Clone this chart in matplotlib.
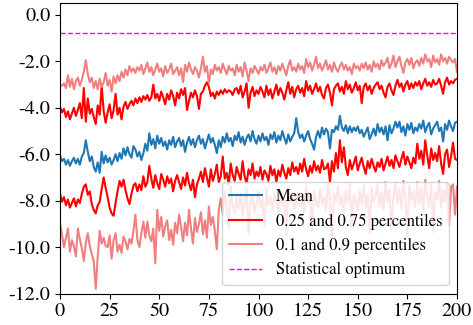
import numpy as np
import matplotlib
matplotlib.use("Agg")
import matplotlib.pyplot as plt
from matplotlib.ticker import FormatStrFormatter

plt.rcParams['font.family'] = ['STIXGeneral', 'DejaVu Serif']

iterations = np.arange(0, 201)

mean = [
    -6.05, -6.30, -6.20, -6.45, -6.25, -6.50, -6.30, -6.15, -6.40, -6.20,
    -6.45, -6.10, -5.95, -5.40, -5.90, -6.30, -6.10, -6.55, -6.75, -6.35,
    -6.80, -5.90, -6.40, -6.05, -6.35, -6.15, -6.45, -6.25, -6.00, -6.30,
    -5.95, -6.20, -5.75, -6.05, -5.70, -6.00, -6.15, -5.65, -5.80, -6.10,
    -5.90, -6.25, -5.95, -5.55, -5.85, -5.10, -5.60, -5.35, -5.75, -5.20,
    -5.55, -5.30, -5.65, -5.45, -5.80, -5.40, -5.60, -5.25, -5.70, -5.45,
    -5.30, -5.65, -5.40, -5.90, -5.50, -5.25, -5.60, -5.35, -5.70, -5.40,
    -5.20, -5.55, -5.35, -5.75, -5.45, -5.15, -5.50, -5.30, -5.60, -5.95,
    -5.40, -5.70, -5.25, -5.50, -5.10, -5.45, -5.30, -5.65, -5.20, -5.40,
    -5.05, -5.50, -5.25, -5.60, -5.30, -5.15, -5.45, -5.00, -5.35, -5.55,
    -5.20, -5.45, -5.10, -5.40, -5.25, -5.60, -5.15, -5.35, -5.05, -5.50,
    -5.20, -5.40, -5.00, -5.30, -5.55, -5.15, -5.45, -5.25, -5.10, -4.45,
    -5.05, -5.30, -5.15, -5.45, -5.20, -5.00, -5.35, -5.55, -5.80, -5.25,
    -5.00, -5.30, -4.85, -5.15, -4.90, -5.05, -5.75, -4.95, -5.05, -4.80,
    -4.95, -4.35, -4.85, -5.00, -4.75, -5.10, -4.80, -5.05, -4.85, -5.00,
    -4.80, -5.10, -4.95, -5.25, -5.05, -4.85, -5.35, -5.15, -4.90, -5.20,
    -4.70, -5.05, -4.85, -5.15, -4.80, -5.40, -4.75, -5.10, -4.90, -4.60,
    -4.85, -4.60, -5.05, -4.80, -5.20, -4.70, -4.95, -4.65, -5.10, -4.85,
    -5.00, -4.70, -4.90, -4.55, -5.05, -4.80, -4.65, -5.15, -4.90, -4.75,
    -4.60, -5.00, -4.85, -5.45, -4.70, -4.95, -4.55, -4.80, -5.00, -4.65,
    -4.60,
]

p75 = [
    -3.95, -4.20, -4.05, -4.40, -4.15, -4.50, -4.25, -4.00, -4.35, -4.10,
    -3.80, -4.45, -3.15, -4.60, -3.60, -4.25, -4.05, -4.40, -4.70, -3.90,
    -4.30, -3.05, -4.15, -4.65, -4.20, -3.85, -4.45, -4.10, -3.40, -4.30,
    -4.00, -4.50, -3.95, -3.75, -4.05, -3.85, -3.70, -3.90, -3.60, -3.80,
    -3.55, -3.75, -3.50, -3.65, -3.45, -3.70, -3.55, -3.00, -3.60, -3.40,
    -3.70, -3.30, -3.55, -3.85, -3.40, -3.65, -3.25, -3.50, -3.90, -3.35,
    -3.60, -3.20, -3.45, -3.15, -4.10, -3.70, -3.35, -3.55, -3.25, -3.50,
    -4.05, -3.40, -3.30, -3.05, -2.90, -3.10, -3.50, -3.35, -3.60, -3.30,
    -3.45, -3.25, -3.40, -3.20, -3.35, -3.25, -3.30, -3.45, -3.20, -3.15,
    -3.40, -3.05, -3.55, -3.30, -2.95, -4.00, -3.35, -3.10, -3.50, -3.25,
    -3.40, -3.10, -3.30, -3.55, -3.05, -3.45, -3.20, -3.60, -3.30, -3.00,
    -3.45, -3.15, -3.35, -3.65, -3.25, -2.90, -3.40, -3.10, -3.55, -3.20,
    -3.05, -3.35, -3.15, -3.50, -2.85, -3.25, -3.05, -3.40, -3.20, -2.95,
    -3.30, -3.10, -3.45, -3.60, -3.15, -3.00, -3.35, -3.90, -3.20, -3.05,
    -2.95, -3.30, -3.10, -3.40, -2.85, -3.20, -3.00, -3.35, -3.15, -2.90,
    -3.25, -3.05, -3.80, -3.10, -2.95, -3.25, -3.05, -3.40, -3.15, -3.00,
    -2.90, -3.20, -3.05, -3.35, -3.55, -3.10, -2.95, -3.25, -3.45, -3.05,
    -2.80, -3.10, -2.95, -3.30, -3.00, -2.85, -3.20, -2.95, -3.15, -2.90,
    -3.05, -2.85, -3.20, -2.95, -2.75, -3.05, -2.90, -3.10, -2.80, -3.00,
    -2.95, -2.75, -3.05, -3.40, -2.90, -2.70, -3.00, -2.85, -2.95, -2.80,
    -2.75,
]

p90 = [
    -3.00, -3.05, -2.95, -3.15, -2.60, -3.10, -2.75, -3.20, -2.85, -2.70,
    -3.05, -2.80, -2.45, -1.95, -2.55, -2.90, -2.70, -3.15, -2.85, -3.20,
    -2.75, -3.10, -2.90, -2.50, -3.05, -2.80, -3.30, -2.65, -2.95, -2.60,
    -2.85, -2.45, -2.70, -2.35, -2.60, -2.20, -2.45, -2.30, -2.50, -2.25,
    -2.40, -2.15, -2.55, -2.30, -2.05, -2.45, -2.25, -2.60, -2.35, -2.10,
    -2.45, -2.30, -2.65, -2.20, -2.50, -2.35, -2.10, -2.55, -2.40, -2.25,
    -2.60, -2.30, -2.90, -2.15, -2.45, -2.05, -2.35, -2.55, -2.25, -2.40,
    -2.70, -2.30, -1.80, -2.45, -2.20, -2.95, -2.35, -2.55, -2.15, -2.40,
    -2.25, -2.50, -2.10, -2.35, -2.55, -2.20, -2.40, -2.30, -2.60, -2.15,
    -2.45, -2.25, -2.65, -2.05, -2.40, -2.85, -2.30, -2.50, -2.20, -2.35,
    -2.55, -2.25, -2.40, -2.15, -2.50, -2.30, -2.05, -2.45, -2.25, -2.55,
    -2.20, -2.40, -2.10, -2.35, -2.60, -2.20, -1.95, -2.40, -2.25, -2.45,
    -2.10, -2.35, -2.20, -2.50, -1.90, -2.25, -2.05, -2.40, -2.15, -1.80,
    -2.30, -2.10, -2.40, -2.20, -1.95, -2.35, -2.15, -2.45, -2.05, -2.30,
    -2.45, -2.20, -2.05, -2.35, -2.15, -2.40, -2.25, -2.55, -2.10, -2.30,
    -2.20, -2.40, -2.10, -2.30, -2.05, -2.35, -2.15, -2.45, -2.00, -2.25,
    -2.10, -2.35, -1.95, -2.20, -2.05, -1.85, -2.30, -2.10, -1.75, -2.25,
    -2.00, -1.80, -2.20, -2.50, -2.05, -1.90, -2.15, -1.85, -2.30, -2.05,
    -1.95, -2.20, -1.85, -2.10, -1.70, -2.00, -1.90, -2.25, -1.75, -2.05,
    -1.90, -2.15, -1.70, -2.00, -1.85, -2.10, -1.80, -1.95, -2.05, -1.90,
    -2.45,
]

p25 = [
    -7.70, -8.05, -7.85, -8.20, -7.95, -8.30, -8.10, -7.90, -8.25, -7.95,
    -8.10, -7.70, -7.40, -7.30, -7.75, -7.60, -8.15, -8.40, -8.55, -8.20,
    -8.05, -7.50, -7.00, -7.45, -7.85, -8.30, -8.55, -8.65, -8.10, -7.60,
    -7.15, -7.40, -7.10, -7.55, -7.90, -8.15, -7.70, -7.35, -7.25, -7.60,
    -7.30, -7.55, -6.95, -7.40, -7.20, -6.50, -7.05, -7.45, -6.90, -7.25,
    -7.50, -6.85, -7.10, -7.40, -6.95, -7.25, -7.05, -7.60, -7.15, -6.90,
    -7.20, -7.50, -7.00, -7.35, -6.80, -7.25, -7.55, -7.10, -7.85, -7.30,
    -7.05, -6.75, -7.20, -6.60, -7.00, -7.40, -6.65, -7.15, -6.85, -6.45,
    -7.20, -6.95, -6.10, -7.05, -6.80, -7.30, -6.40, -6.90, -7.15, -6.55,
    -6.85, -7.10, -6.30, -6.95, -7.25, -6.65, -6.90, -6.40, -7.05, -6.75,
    -6.95, -6.55, -7.10, -6.70, -6.85, -7.15, -6.50, -6.90, -6.65, -7.20,
    -6.70, -6.95, -6.45, -6.80, -7.05, -6.60, -6.90, -6.35, -6.75, -6.55,
    -6.85, -6.40, -6.75, -6.20, -6.65, -6.95, -6.50, -6.80, -6.30, -6.70,
    -6.50, -6.80, -6.25, -6.65, -6.60, -6.40, -7.20, -6.30, -6.75, -5.95,
    -6.60, -5.40, -6.35, -5.70, -6.55, -6.90, -6.25, -6.65, -6.40, -6.10,
    -6.70, -6.40, -6.15, -6.55, -6.85, -6.30, -6.60, -6.20, -6.50, -6.75,
    -6.35, -6.55, -6.20, -6.70, -6.40, -6.10, -6.50, -6.25, -6.60, -6.05,
    -6.30, -6.55, -6.20, -5.90, -6.45, -6.10, -6.35, -6.60, -6.15, -6.40,
    -5.55, -6.20, -5.85, -6.45, -5.40, -6.05, -6.60, -5.75, -6.25, -5.95,
    -6.30, -5.65, -6.40, -6.85, -6.00, -5.80, -6.55, -6.10, -5.50, -6.20,
    -6.25,
]

p10 = [
    -9.00, -9.45, -10.00, -9.60, -9.20, -10.20, -9.70, -9.95, -10.40, -9.20,
    -9.65, -10.05, -10.60, -9.80, -9.40, -9.95, -10.30, -10.60, -11.80, -10.40,
    -9.30, -9.85, -9.60, -9.95, -10.00, -9.50, -10.50, -9.70, -9.40, -10.20,
    -9.90, -10.25, -9.55, -9.75, -10.10, -9.65, -9.85, -9.30, -8.60, -9.70,
    -10.00, -9.40, -8.90, -9.60, -8.90, -9.50, -9.75, -9.20, -10.70, -8.40,
    -9.30, -8.70, -9.55, -9.10, -8.85, -9.70, -9.25, -9.90, -8.95, -9.40,
    -8.60, -9.15, -9.75, -8.95, -9.50, -8.40, -9.20, -9.85, -8.75, -9.35,
    -9.00, -8.50, -9.45, -8.85, -9.60, -8.25, -9.05, -8.70, -9.30, -10.10,
    -8.40, -7.90, -8.60, -7.60, -8.30, -9.20, -7.40, -8.20, -8.55, -7.85,
    -8.35, -7.70, -8.65, -8.10, -7.50, -9.45, -8.05, -7.80, -8.50, -8.15,
    -7.60, -8.30, -7.95, -9.10, -7.45, -8.20, -7.85, -8.40, -7.70, -8.10,
    -8.45, -7.55, -8.20, -7.90, -9.50, -7.40, -8.05, -7.75, -8.35, -7.95,
    -7.65, -8.25, -7.85, -8.50, -7.35, -8.10, -7.80, -9.30, -7.60, -8.00,
    -8.30, -7.50, -8.15, -7.85, -8.45, -7.25, -7.95, -9.60, -7.70, -8.05,
    -7.40, -8.20, -7.80, -8.45, -7.55, -8.10, -7.30, -9.15, -7.75, -8.00,
    -8.40, -7.60, -8.15, -7.35, -8.30, -7.70, -9.40, -7.45, -8.05, -7.80,
    -7.30, -8.25, -7.65, -8.40, -7.20, -8.05, -7.55, -9.25, -7.85, -7.25,
    -8.10, -7.50, -8.35, -7.15, -7.90, -9.55, -7.35, -8.00, -7.60, -8.30,
    -7.20, -8.15, -7.45, -8.40, -7.10, -7.85, -8.25, -7.30, -9.35, -7.65,
    -7.95, -7.15, -8.30, -7.55, -8.05, -7.25, -9.10, -7.40, -7.30, -8.60,
    -7.40,
]

optimum = -0.78

x_ticks = [0, 25, 50, 75, 100, 125, 150, 175, 200]
y_ticks = [0.0, -2.0, -4.0, -6.0, -8.0, -10.0, -12.0]

fig = plt.figure(figsize=(4.73, 3.25), dpi=100)
ax = fig.add_axes([60/473, 1 - 293.5/325, (457 - 60)/473, (293.5 - 3.3)/325])

ax.plot(iterations, mean, color='tab:blue', lw=1.5, label='Mean')
ax.plot(iterations, p75, color='red', lw=1.5, label='0.25 and 0.75 percentiles')
ax.plot(iterations, p25, color='red', lw=1.5)
ax.plot(iterations, p90, color='lightcoral', lw=1.5, label='0.1 and 0.9 percentiles')
ax.plot(iterations, p10, color='lightcoral', lw=1.5)
ax.axhline(optimum, color='magenta', ls='--', lw=1.0, label='Statistical optimum')

ax.set_xlim(0, 200)
ax.set_ylim(-12, 0.5)
ax.set_xticks(x_ticks)
ax.set_yticks(y_ticks)
ax.yaxis.set_major_formatter(FormatStrFormatter('%.1f'))
ax.tick_params(labelsize=14.5)

ax.legend(loc='lower right', fontsize=12)

fig.savefig('out.png', dpi=100)
